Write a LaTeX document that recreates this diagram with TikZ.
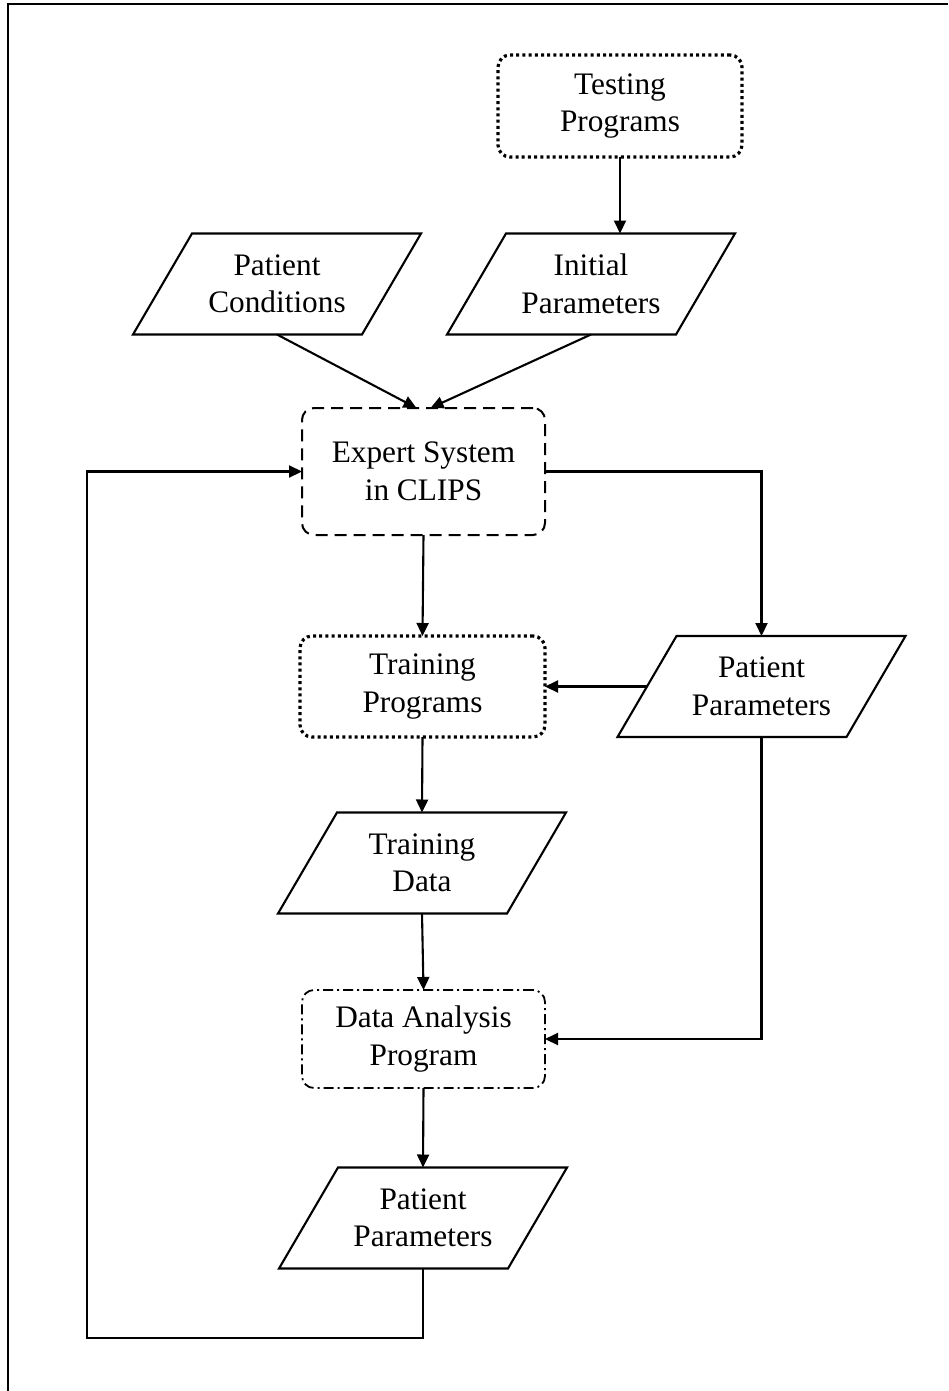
\documentclass[tikz,border=0pt]{standalone}
\usepackage{fontspec}
\setmainfont{Liberation Serif}
\usetikzlibrary{arrows.meta}
\begin{document}
\begin{tikzpicture}[x=1pt,y=-1pt,
  txt/.style={font=\fontsize{31.3}{37.5}\selectfont, align=center, inner sep=0pt, outer sep=0pt},
  dotbox/.style={txt, draw, line width=3.2pt, dash pattern=on 3pt off 3.2pt, rounded corners=12pt},
  dashbox/.style={txt, draw, line width=2pt, dash pattern=on 12pt off 7pt, rounded corners=12pt},
  dashdotbox/.style={txt, draw, line width=1.8pt, dash pattern=on 10pt off 4pt on 2pt off 4pt, rounded corners=12pt},
  iobox/.style={txt, minimum width=288pt, minimum height=101pt},
  link/.style={line width=2.1pt},
  arr/.style={link, -{Triangle[length=13pt,width=12pt]}},
  frame/.style={line width=2.2pt}]
\useasboundingbox (0,0) rectangle (948,1391);

% page frame
\draw[frame] (8,1391) -- (8,4) -- (948,4);

% process boxes
\node[dotbox, minimum width=244pt, minimum height=102pt] (tp) at (620,106) {Testing\\Programs};
\node[dashbox, minimum width=243pt, minimum height=127pt] (es) at (423.5,471.5) {Expert System\\in CLIPS};
\node[dotbox, minimum width=245pt, minimum height=101pt] (tr) at (422.5,686.5) {Training\\Programs};
\node[dashdotbox, minimum width=243pt, minimum height=98pt] (da) at (423.5,1039) {Data Analysis\\Program};

% data (parallelogram) boxes
\node[iobox] (pc) at (277,284) {Patient\\Conditions};
\node[iobox] (ip) at (591,284) {Initial\\Parameters};
\node[iobox] (pp) at (761.5,686.5) {Patient\\Parameters};
\node[iobox] (td) at (422,863) {Training\\Data};
\node[iobox] (pq) at (423,1218) {Patient\\Parameters};
\foreach \n in {pc,ip,pp,td,pq}
  \draw[link] ([xshift=59pt]\n.north west) -- (\n.north east)
    -- ([xshift=-59pt]\n.south east) -- (\n.south west) -- cycle;

% connectors
\coordinate (lp) at (87,1338);
\draw[arr] (tp.south) -- (tp.south |- ip.north);
\draw[arr] (pc.south) -- ([xshift=-7pt]es.north);
\draw[arr] (ip.south) -- ([xshift=7pt]es.north);
\draw[arr] (es.east) -| (pp.north);
\draw[arr] (es.south) -- (tr.north);
\draw[arr] ([xshift=29.5pt]pp.west) -- (tr.east);
\draw[arr] (tr.south) -- (td.north);
\draw[arr] (td.south) -- (da.north);
\draw[arr] (pp.south) |- (da.east);
\draw[arr] (da.south) -- (pq.north);
\draw[arr] (pq.south) |- (lp) |- (es.west);
\end{tikzpicture}
\end{document}
